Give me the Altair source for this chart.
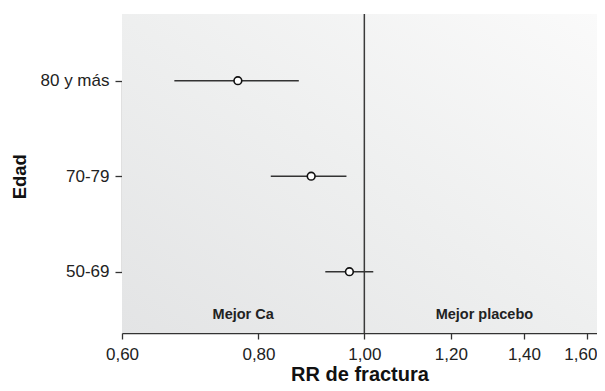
import altair as alt
import pandas as pd

# ---- data ----
groups = ["80 y más", "70-79", "50-69"]
rr = [0.766, 0.894, 0.969]
ci_low = [0.670, 0.821, 0.921]
ci_high = [0.871, 0.963, 1.019]

tick_values = [0.6, 0.8, 1.0, 1.2, 1.4, 1.6]
x_domain = [0.6, 1.633]
ref_value = [1.0]
region_labels = ["Mejor Ca", "Mejor placebo"]
region_pos = [0.7746, 1.288]

PLOT_W = 475
PLOT_H = 319

df = pd.DataFrame({"grupo": groups, "rr": rr, "lo": ci_low, "hi": ci_high})
bg_df = pd.DataFrame({"x0": [x_domain[0]], "x1": [x_domain[1]]})
ref_df = pd.DataFrame({"v": ref_value})
lab_df = pd.DataFrame({"t": region_labels, "x": region_pos})

FONT = "Liberation Sans"

xscale = alt.Scale(type="log", domain=x_domain, nice=False)
yscale = alt.Scale(type="point", domain=groups, range=[66.7, 257.7], padding=0)

x_axis = alt.Axis(
    values=tick_values,
    labelExpr="replace(format(datum.value, '.2f'), '.', ',')",
    title="RR de fractura",
    grid=False,
    labelFlush=False,
    labelOffset=alt.condition("datum.value >= 1.59", alt.value(-7), alt.value(0)),
)
y_axis = alt.Axis(title="Edad", grid=False)

bg = alt.Chart(bg_df).mark_rect(
    fill=alt.Gradient(
        gradient="linear",
        stops=[
            alt.GradientStop(color="#e3e4e5", offset=0),
            alt.GradientStop(color="#eeefef", offset=0.5),
            alt.GradientStop(color="#fafafa", offset=1),
        ],
        x1=0, y1=1, x2=1, y2=0,
    )
).encode(
    x=alt.X("x0:Q", scale=xscale, axis=x_axis),
    x2="x1:Q",
    y=alt.value(0),
    y2=alt.value(PLOT_H),
)

ref = alt.Chart(ref_df).mark_rule(color="#3a3a3a", strokeWidth=1.5).encode(
    x=alt.X("v:Q", scale=xscale)
)

bars = alt.Chart(df).mark_rule(color="#333333", strokeWidth=1.5).encode(
    x=alt.X("lo:Q", scale=xscale),
    x2="hi:Q",
    y=alt.Y("grupo:N", scale=yscale, axis=y_axis, sort=groups),
)

pts = alt.Chart(df).mark_point(
    filled=True, fill="white", stroke="#111111", strokeWidth=1.6, size=60, opacity=1
).encode(
    x=alt.X("rr:Q", scale=xscale),
    y=alt.Y("grupo:N", scale=yscale, sort=groups),
)

labels = alt.Chart(lab_df).mark_text(
    font=FONT, fontSize=14.5, fontWeight="bold", color="#222222", baseline="alphabetic"
).encode(
    x=alt.X("x:Q", scale=xscale),
    y=alt.value(304.5),
    text="t:N",
)

chart = alt.layer(bg, ref, bars, pts, labels).properties(
    width=PLOT_W,
    height=PLOT_H,
    autosize="none",
    padding={"left": 114, "top": 6, "right": 0, "bottom": 50},
).configure_view(stroke=None).configure_axis(
    labelFont=FONT,
    titleFont=FONT,
    labelFontSize=17,
    titleFontSize=20,
    titleFontWeight="bold",
    labelColor="#222222",
    titleColor="#111111",
    domainColor="#333333",
    tickColor="#333333",
    domainWidth=1.3,
    tickWidth=1.3,
).configure_axisX(
    tickSize=6, labelPadding=7, titlePadding=2
).configure_axisY(
    tickSize=7, labelPadding=6, titlePadding=11, titleFontSize=18.5
)

chart.save("out.html", embed_options={"renderer": "svg", "actions": False})
